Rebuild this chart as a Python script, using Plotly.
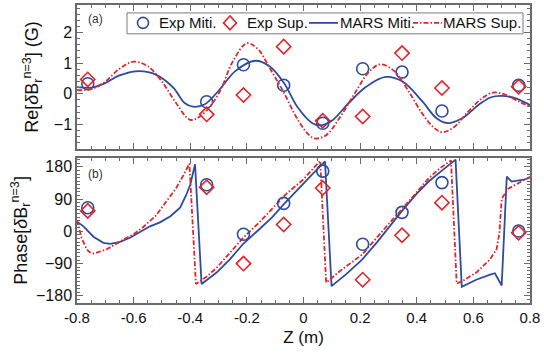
import plotly.graph_objects as go

# ---------------- data ----------------
z_exp = [-0.762, -0.342, -0.212, -0.07, 0.068, 0.209, 0.348, 0.489, 0.76]
re_exp_miti = [0.33, -0.26, 0.95, 0.28, -0.96, 0.82, 0.71, -0.56, 0.28]
re_exp_sup = [0.47, -0.67, -0.04, 1.54, -0.88, -0.74, 1.33, 0.19, 0.23]
ph_exp_miti = [66, 130, -8, 78, 168, -36, 53, 136, 1]
ph_exp_sup = [57, 123, -90, 19, 121, -135, -11, 80, -4]

z_re_miti = [-0.80, -0.75, -0.70, -0.65, -0.58, -0.52, -0.46, -0.42, -0.39, -0.35,
             -0.30, -0.24, -0.17, -0.12, -0.07, -0.02, 0.03, 0.06, 0.10, 0.16,
             0.22, 0.29, 0.35, 0.42, 0.47, 0.51, 0.56, 0.62, 0.66, 0.70, 0.75, 0.80]
re_miti = [0.22, 0.20, 0.35, 0.60, 0.74, 0.62, 0.20, -0.30, -0.42, -0.35,
           0.10, 0.75, 1.08, 0.90, 0.37, -0.45, -0.95, -1.03, -0.88, -0.30,
           0.22, 0.55, 0.40, -0.25, -0.80, -0.96, -0.80, -0.35, -0.12, -0.07, -0.15, -0.37]

z_re_sup = [-0.80, -0.75, -0.70, -0.65, -0.60, -0.55, -0.50, -0.45, -0.40, -0.36,
            -0.30, -0.25, -0.20, -0.16, -0.12, -0.07, -0.02, 0.02, 0.04, 0.08,
            0.13, 0.18, 0.23, 0.27, 0.32, 0.37, 0.42, 0.46, 0.49, 0.53, 0.58, 0.63,
            0.67, 0.71, 0.76, 0.80]
re_sup = [0.12, 0.15, 0.40, 0.82, 1.05, 0.90, 0.40, -0.30, -0.85, -0.70,
          0.00, 1.05, 1.65, 1.45, 0.85, 0.05, -0.85, -1.35, -1.46, -1.35,
          -0.75, 0.00, 0.70, 0.96, 0.75, 0.10, -0.65, -1.10, -1.25, -1.10, -0.60, -0.15,
          0.04, -0.02, -0.25, -0.42]

z_ph_miti = [-0.800, -0.777, -0.742, -0.707, -0.683, -0.650, -0.613, -0.542, -0.507,
             -0.470, -0.436, -0.415, -0.400, -0.383, -0.360, -0.340, -0.307, -0.260,
             -0.212, -0.160, -0.111, -0.070, -0.020, 0.030, 0.076, 0.099, 0.150,
             0.207, 0.260, 0.300, 0.348, 0.400, 0.442, 0.490, 0.537, 0.559, 0.610,
             0.659, 0.676, 0.700, 0.718, 0.735, 0.777, 0.800]
ph_miti = [27, 14, -15, -32, -35, -30, -18, 14, 25,
           42, 66, 100, 130, 187, -147, -135, -115, -78,
           -34, 3, 39, 75, 118, 158, 195, -153, -120,
           -79, -30, 10, 57, 105, 139, 170, 200, -155, -135,
           -121, -117, -151, 153, 139, 144, 150]

z_ph_sup = [-0.800, -0.784, -0.766, -0.754, -0.740, -0.695, -0.636, -0.600, -0.566,
            -0.520, -0.483, -0.450, -0.424, -0.403, -0.380, -0.340, -0.307, -0.260,
            -0.212, -0.160, -0.111, -0.060, 0.000, 0.059, 0.080, 0.130, 0.207,
            0.260, 0.300, 0.348, 0.400, 0.442, 0.480, 0.521, 0.541, 0.565, 0.612,
            0.659, 0.682, 0.692, 0.700, 0.723, 0.760, 0.800]
ph_sup = [32, -18, -50, -59, -62, -50, -23, -8, 12,
          45, 85, 120, 157, 189, -147, -125, -102, -60,
          -17, 22, 62, 105, 145, 197, -143, -110, -65,
          -15, 20, 62, 108, 148, 175, 198, -146, -137, -114,
          -78, -50, -4, 91, 119, 135, 152]

x_ticks = [-0.8, -0.6, -0.4, -0.2, 0, 0.2, 0.4, 0.6, 0.8]
x_tick_text = ["-0.8", "-0.6", "-0.4", "-0.2", "0", "0.2", "0.4", "0.6", "0.8"]
re_ticks = [-1, 0, 1, 2]
ph_ticks = [-180, -90, 0, 90, 180]
legend_names = ["Exp Miti.", "Exp Sup.", "MARS Miti.", "MARS Sup."]

# ---------------- styles ----------------
BLUE = "#2f4b9e"
RED = "#e0262b"
FONT = "Liberation Sans, Arial, sans-serif"
AXC = "#6a6a6a"
DASHDOT = "5px,2px,1.5px,2px"
CIRC = dict(symbol="circle-open", size=12, color=BLUE, line=dict(width=1.6))
DIAM = dict(symbol="diamond-open", size=11, color=RED, line=dict(width=1.6))

fig = go.Figure()

# top panel
fig.add_trace(go.Scatter(x=z_exp, y=re_exp_miti, mode="markers", name=legend_names[0],
                         marker=CIRC, xaxis="x", yaxis="y"))
fig.add_trace(go.Scatter(x=z_exp, y=re_exp_sup, mode="markers", name=legend_names[1],
                         marker=DIAM, xaxis="x", yaxis="y"))
fig.add_trace(go.Scatter(x=z_re_miti, y=re_miti, mode="lines", name=legend_names[2],
                         line=dict(color=BLUE, width=1.8, shape="spline", smoothing=1.0),
                         xaxis="x", yaxis="y"))
fig.add_trace(go.Scatter(x=z_re_sup, y=re_sup, mode="lines", name=legend_names[3],
                         line=dict(color=RED, width=1.8, dash=DASHDOT,
                                   shape="spline", smoothing=1.0),
                         xaxis="x", yaxis="y"))

# bottom panel
fig.add_trace(go.Scatter(x=z_ph_miti, y=ph_miti, mode="lines",
                         line=dict(color=BLUE, width=1.8), xaxis="x2", yaxis="y2"))
fig.add_trace(go.Scatter(x=z_ph_sup, y=ph_sup, mode="lines",
                         line=dict(color=RED, width=1.8, dash=DASHDOT),
                         xaxis="x2", yaxis="y2"))
fig.add_trace(go.Scatter(x=z_exp, y=ph_exp_miti, mode="markers", marker=CIRC,
                         xaxis="x2", yaxis="y2"))
fig.add_trace(go.Scatter(x=z_exp, y=ph_exp_sup, mode="markers", marker=DIAM,
                         xaxis="x2", yaxis="y2"))
fig.update_traces(showlegend=False)

common_x = dict(range=[-0.8, 0.8], tickvals=x_ticks, ticktext=x_tick_text,
                ticks="inside", ticklen=6, tickcolor=AXC, showline=True, linecolor=AXC,
                linewidth=1.5, mirror="allticks", showgrid=False, zeroline=False,
                minor=dict(dtick=0.05, ticklen=3, ticks="inside", tickcolor=AXC))

# ---- custom single-row legend (paper coordinates) ----
L = 77.0; W = 453.0; B = 303.0; H = 300.0
def px(xpix):
    return (xpix - L) / W
def py(ypix):
    return (B - ypix) / H

leg_y = py(21)
shapes = [
    dict(type="rect", xref="paper", yref="paper", x0=px(127), x1=px(523), y0=py(32), y1=py(11),
         line=dict(color="#7a7a7a", width=1), fillcolor="white", layer="above"),
    dict(type="circle", xref="paper", yref="paper", xsizemode="pixel", ysizemode="pixel",
         xanchor=px(143), yanchor=leg_y, x0=-5.5, x1=5.5, y0=-5.5, y1=5.5,
         line=dict(color=BLUE, width=1.6), layer="above"),
    dict(type="path", xref="paper", yref="paper", xsizemode="pixel", ysizemode="pixel",
         xanchor=px(230), yanchor=leg_y, path="M 0,7 L 6.5,0 L 0,-7 L -6.5,0 Z",
         line=dict(color=RED, width=1.6), layer="above"),
    dict(type="line", xref="paper", yref="paper", x0=px(309), x1=px(338), y0=leg_y, y1=leg_y,
         line=dict(color=BLUE, width=1.8), layer="above"),
    dict(type="line", xref="paper", yref="paper", x0=px(413), x1=px(442), y0=leg_y, y1=leg_y,
         line=dict(color=RED, width=1.8, dash=DASHDOT), layer="above"),
]
leg_text_x = [158, 246, 339, 442]
annotations = [
    dict(text=t, xref="paper", yref="paper", x=px(xp), y=leg_y, xanchor="left",
         yanchor="middle", showarrow=False, font=dict(size=15, color="#111"),
         borderpad=0)
    for t, xp in zip(legend_names, leg_text_x)
]
annotations += [
    dict(text="(a)", xref="paper", yref="paper", x=px(86), y=py(17),
         xanchor="left", yanchor="middle", showarrow=False, font=dict(size=12, color="#333")),
    dict(text="(b)", xref="paper", yref="paper", x=px(86), y=py(173),
         xanchor="left", yanchor="middle", showarrow=False, font=dict(size=12, color="#333")),
]

fig.update_layout(
    width=544, height=356,
    margin=dict(l=77, r=14, t=3, b=53),
    paper_bgcolor="white", plot_bgcolor="white",
    font=dict(family=FONT, size=15, color="#111"),
    showlegend=False,
    xaxis=dict(common_x, domain=[0, 1], anchor="y", showticklabels=False),
    xaxis2=dict(common_x, domain=[0, 1], anchor="y2", showticklabels=True,
                tickfont=dict(size=15),
                title=dict(text="Z (m)", font=dict(size=17), standoff=6)),
    yaxis=dict(domain=[0.517, 1], range=[-1.8, 2.9], tickvals=re_ticks,
               ticks="inside", ticklen=6, tickcolor=AXC, showline=True, linecolor=AXC,
               linewidth=1.5, mirror="allticks", showgrid=False, zeroline=False,
               minor=dict(dtick=0.2, ticklen=3, ticks="inside", tickcolor=AXC),
               tickfont=dict(size=16),
               title=dict(text="Re[<i>δ</i>B<sub>r</sub><sup>n=3</sup>] (G)",
                          font=dict(size=18), standoff=10)),
    yaxis2=dict(domain=[0, 0.487], range=[-200, 205], tickvals=ph_ticks,
                ticks="inside", ticklen=6, tickcolor=AXC, showline=True, linecolor=AXC,
                linewidth=1.5, mirror="allticks", showgrid=False, zeroline=False,
                minor=dict(dtick=10, ticklen=3, ticks="inside", tickcolor=AXC),
                tickfont=dict(size=16),
                title=dict(text="Phase[<i>δ</i>B<sub>r</sub><sup>n=3</sup>]",
                           font=dict(size=18), standoff=4)),
    shapes=shapes,
    annotations=annotations,
)

fig.write_html("out.html", config={"displayModeBar": False},
               post_script="document.body.style.margin='0';document.body.style.overflow='hidden';")
